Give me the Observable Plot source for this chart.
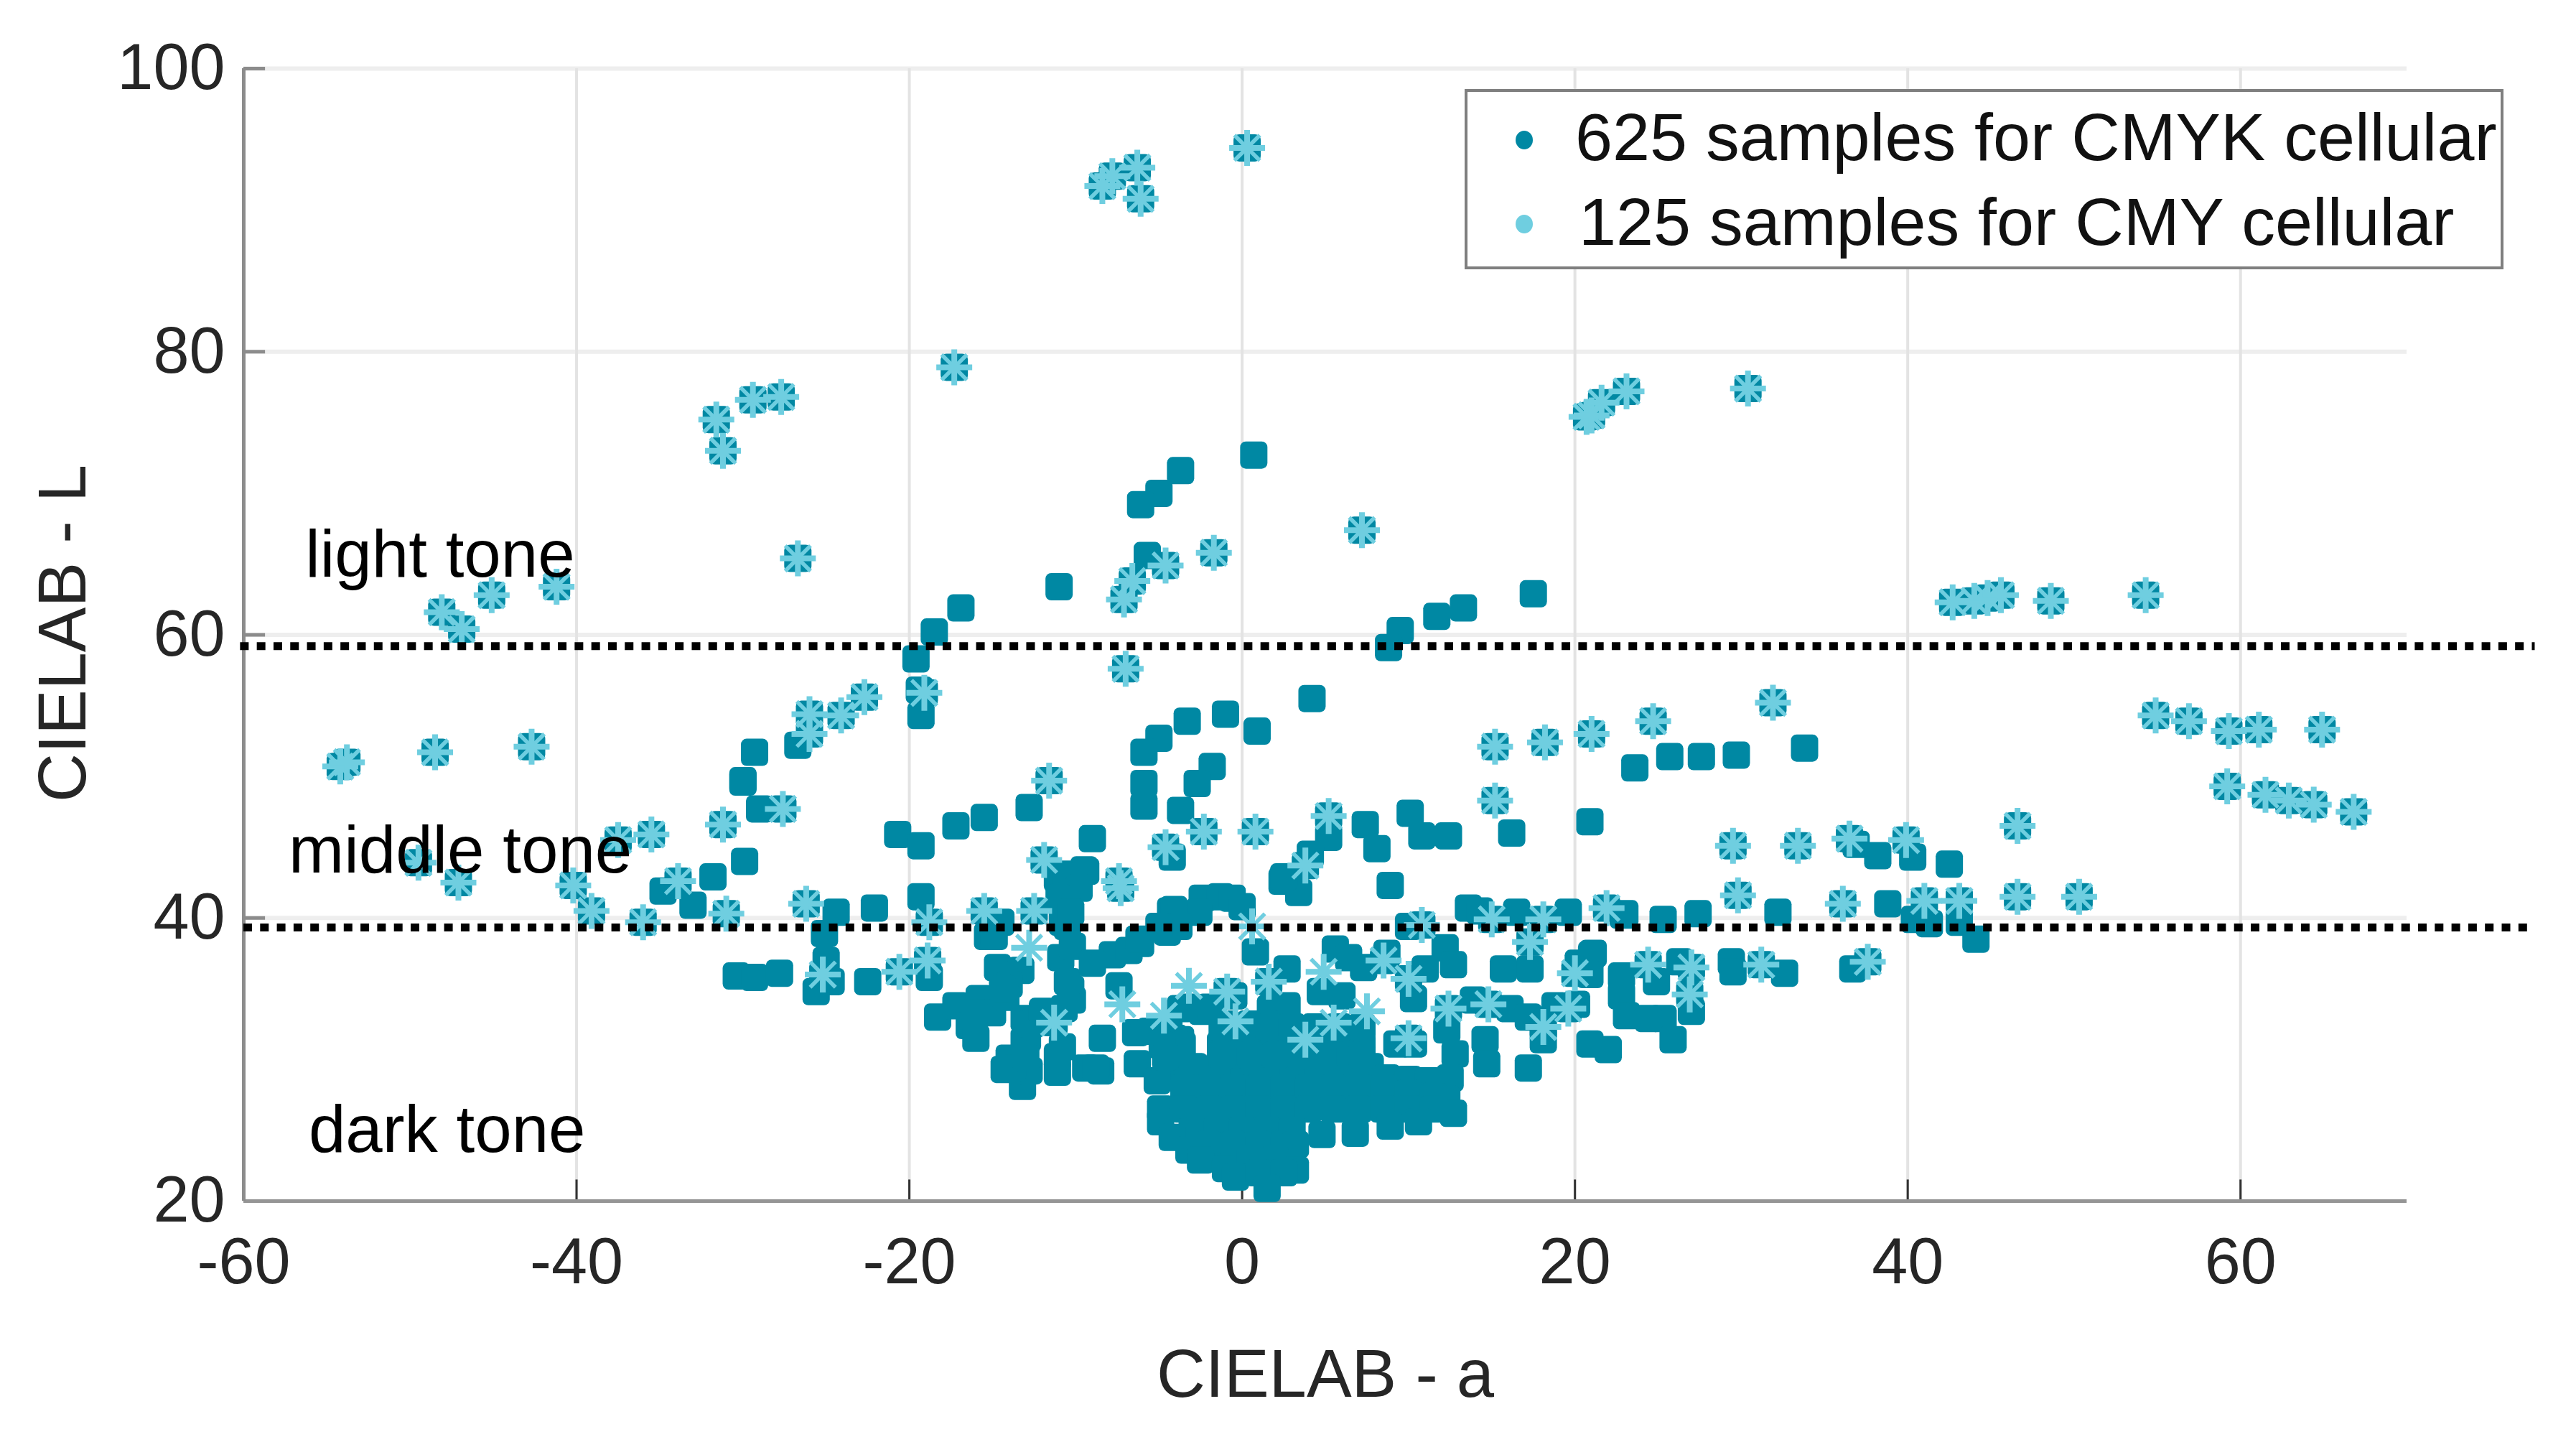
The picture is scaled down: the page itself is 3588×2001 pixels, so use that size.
<!DOCTYPE html>
<html><head><meta charset="utf-8">
<script src="https://cdn.jsdelivr.net/npm/d3@7"></script>
<script src="https://cdn.jsdelivr.net/npm/@observablehq/plot@0.6"></script>
<style>
html,body{margin:0;padding:0;background:#fff;overflow:hidden}
#wrap{position:relative;width:3588px;height:2001px;font-family:"Liberation Sans",Arial,sans-serif}
#wrap svg{display:block;max-width:none;background:#fff}
#legend{position:absolute;left:2040px;top:124px;width:1439px;height:243px;border:4px solid #7f7f7f;background:#fff}
#legend .t{position:absolute;font-size:93.5px;line-height:1;color:#111;white-space:nowrap}
#legend .m{position:absolute;width:24px;height:26px;border-radius:50%}
</style></head><body><div id="wrap"></div>
<script>
const xTicks=[-60,-40,-20,0,20,40,60];
const yTicks=[20,40,60,80,100];
const toneBounds=[39.33,59.2];
const xTitle="CIELAB - a";
const yTitle="CIELAB - L";
const toneLabels=[["light tone",-56.3,64.1],["middle tone",-57.3,43.2],["dark tone",-56.1,23.5]];
const legendLabels=["625 samples for CMYK cellular","125 samples for CMY cellular"];
const darkColor="#0088a3", lightColor="#6fcee0";

// CMY samples that sit on a visible CMYK square
const cmyOnSquare=[[0.3,94.4],[-8.4,91.7],[-7.8,92.4],[-6.3,93],[-6.1,90.8],[-17.3,78.9],[-31.6,75.2],[-31.2,73],[-29.4,76.6],[-27.7,76.8],
[-26.7,65.4],[-45.1,62.8],[-41.2,63.4],[-48.1,61.6],[-46.9,60.4],[30.4,77.4],[20.7,75.4],[21,75.5],[21.6,76.4],[23.1,77.2],
[7.2,67.4],[-1.7,65.8],[-4.6,64.9],[-6.6,63.8],[-7.1,62.5],[42.7,62.3],[44,62.4],[44.8,62.6],[45.6,62.8],[48.6,62.4],[54.3,62.8],
[-7,57.6],[-19.1,55.9],[-22.7,55.6],[-24.1,54.3],[-26,54.4],[-26,53],[-54.2,50.7],[-53.8,51],[-48.5,51.7],[-42.7,52.1],
[-27.6,47.7],[-31.2,46.6],[-11.6,49.7],[-37.5,45.5],[-35.5,45.9],[-49.5,43.9],[-47.1,42.5],[-40.2,42.3],[-39.1,40.5],[-36,39.7],[-33.9,42.6],
[-31,40.3],[-26.2,41],[-25.2,36],[-20.6,36.2],[-18.9,37],[-18.8,39.7],[-15.5,40.5],[-12.5,40.5],[-11.9,44.1],[-11.3,32.6],
[-7.4,42.6],[-7.3,42.1],[3.8,43.7],[10.8,39.5],[8.5,37],[10,35.7],[1.6,35.5],[-0.9,34.8],[10,31.5],
[15.2,48.3],[29.5,45.1],[29.8,41.6],[15,39.9],[18.1,39.9],[17.3,38.3],[21.9,40.7],[24.4,36.7],[27,36.5],[26.9,34.6],[31.2,36.7],
[20,36.1],[19.6,33.6],[18.1,32.3],[14.8,33.9],[12.4,33.6],[33.4,45.1],[15.2,52.1],[18.2,52.4],[21,53],[24.7,53.9],[31.9,55.2],[5.2,47.2],
[-4.6,45],[-2.3,46.1],[0.8,46.1],[36.5,45.6],[39.9,45.5],[46.6,46.5],[54.9,54.3],[56.9,53.9],[59.3,53.2],[61.1,53.3],[64.9,53.3],
[59.2,49.3],[61.5,48.7],[62.9,48.3],[64.4,48],[66.8,47.5],[36.1,41],[41,41.2],[43.1,41.2],[46.6,41.5],[50.3,41.5],[37.6,36.9]];
// CMY samples with no square of their own under them
const cmyBare=[[-12.8,37.9],[-7.2,33.9],[-4.7,33.1],[-3.2,35.2],[-0.4,32.7],[0.6,39.4],[4.9,36.2],[7.5,33.4],[5.5,32.6],[3.8,31.4]];
// CMYK samples outside the dense centre
const cmykOuter=[[0.7,72.7],[-3.7,71.6],[-5,70],[-6.1,69.2],[-5.7,65.6],[-11,63.4],[-16.9,61.9],[-18.5,60.2],[-19.6,58.3],[-19.4,56.1],[-19.3,54.3],
[-26.7,52.2],[-29.3,51.7],[-30,49.7],[-1,54.4],[0.9,53.2],[-3.3,53.9],[-5,52.7],[-5.9,51.7],[-1.8,50.7],[-2.7,49.5],[-5.9,49.5],[-5.9,47.9],[-3.7,47.6],
[17.5,62.9],[13.3,61.9],[11.7,61.3],[9.5,60.3],[8.8,59.1],[4.2,55.5],[23.6,50.6],[25.7,51.4],[27.6,51.4],[29.7,51.5],[20.9,46.8],[16.2,46],
[12.4,45.8],[10.8,45.8],[10.1,47.4],[7.4,46.6],[8.1,44.9],[5.2,45.7],[4.1,44.5],[33.8,52],[36.9,45.2],[38.2,44.4],[40.3,44.3],[42.5,43.8],
[23,40.3],[25.3,39.9],[27.4,40.3],[32.2,40.4],[38.8,41],[40.4,39.9],[41.3,39.6],[43.1,39.7],[44.1,38.5],[21,37.4],[36.7,36.4],[32.6,36.1],[29.4,36.9],[29.5,36.2],
[24.9,35.5],[26.3,36.9],[27,33.4],[25.3,32.9],[13.6,40.7],[14.3,40.5],[16.5,40.4],[19.6,40.4],[22.9,40.2],[12.2,37.9],[12.7,36.7],[15.7,36.4],[17.3,36.4],
[21.1,37.5],[20.2,36.8],[20.9,36],[22.8,35.9],[22.8,34.5],[23.1,33.1],[24.4,32.9],[25.9,31.4],[16.1,33.6],[17.2,33],[18.8,33.8],[20.1,33.9],[18.1,31.4],
[14.6,31.4],[14.7,29.7],[17.2,29.4],[20.9,31.1],[22,30.7],[12.3,32.1],[12.8,30.4],[13.9,34.2],
[-30,49.6],[-29,47.7],[-29.9,44],[-31.8,42.9],[-33,40.9],[-34.8,41.9],[-24.4,40.4],[-22.1,40.7],[-25.1,38.9],[-25,37],[-24.7,35.5],[-25.6,34.8],
[-30.4,35.9],[-29.3,35.8],[-27.8,36.1],[-22.5,35.5],[-18.8,35.8],[-20.7,45.9],[-19.3,45.1],[-17.2,46.5],[-15.5,47.1],[-12.8,47.8],[-19.3,41.5],
[-11.1,42.8],[-10.6,43.1],[-9.5,43.4],[-9,45.6],[-9.4,43.3],[-9.8,42.1],[-4.2,44.3],[2.4,42.6],[3.4,41.8],[8.9,42.3],[2.5,42.9]];
// CMYK samples in the dense centre
const cmykCentre=[[-14.5,39.7],[-15.3,38.7],[-14.7,36.5],[-13.3,36.3],[-14,35.3],[-10.9,37.2],[-10.8,39.7],[-11,41.4],[-10.3,35],[-18.3,33],[-17.2,33.8],[-15.8,34.3],
[-15,33.3],[-16.4,32.4],[-16,31.5],[-13.1,32.9],[-13.1,31.3],[-14,30.1],[-14.3,29.3],[-13.2,28.1],[-12.8,29.2],[-11.1,29.1],[-10.8,30.9],[-10.7,33.6],[-9.4,29.4],
[-4.3,40.5],[-2.4,41.4],[-1.3,41.5],[-0.6,41.4],[0,40.8],[-2.6,40.4],[0.8,37.6],[2.7,36.4],[5.6,37.8],[6.4,37.2],[7.3,36.5],[8.7,37.5],[10,39.4],[11,36.4],[10.3,34.3],
[4.7,34.8],[6,34.5],[2.7,33.8],[1.7,33.6],[2.8,31.8],[-0.5,34.5],[-2.4,33.4],[-3.7,33.6],[-8.4,31.5],[-8.5,29.2],[-6.4,31.9],[-6.3,29.7],[-4.4,32.1],[-3.7,31.4],
[9.3,31.1],[10.3,31.1],[-7.4,35.2],[-10.2,34.2],[-10.5,35.5],[-14.2,34.4],[-16.1,33.3],[-13.8,29.4],[-8.8,29.4],[-12.9,31.5],[-4.1,31.5],
[-10.2,38],[-10.5,39.4],[-14.9,38.7],[-4.1,40.6],[-6.1,38.2],[-7.8,37.4],[-9,36.8],[-4.5,39],[-3.8,39.4],[-6.8,37.7],[-6.2,38.5],[-5,39.4],
[-4.4,29.5],[-2.9,29.5],[-1.4,29.5],[0.1,29.5],[1.6,29.5],[3.1,29.5],[4.6,29.5],[6.1,29.5],[7.7,29.5],[8.7,28.7],[10,28.6],[11.2,28.5],[12.5,28.7],[12.3,27.2],[12.7,26.2],
[-5.1,28.5],[-3.5,28],[-2,28],[-0.5,28],[1,28],[2.5,28],[4,28],[5.5,28],[7,28],[8.5,28],[10,27.6],[11.5,27.4],
[-4.9,26.5],[-3.5,26.5],[-2,26.5],[-0.5,26.5],[1,26.5],[2.5,26.5],[4,26.5],[5.5,26.5],[7,26.5],[8.5,26.5],[10,26.5],[11.5,26.5],
[-4.9,25.6],[-3,25],[-1.5,25],[0,25],[1.5,25],[3,25],[4.8,24.7],[6.8,24.8],[8.9,25.3],[10.6,25.6],
[-4.2,24.5],[-3.2,23.6],[-2,24],[-0.5,24],[1,24],[2.5,24],[3.2,24],[-2.5,22.9],[-1,22.3],[0.5,23],[2,23],[3.2,22.2],[-0.4,21.7],[1,22],[2.5,22],[1.5,20.9],
[-3.6,31],[-1.3,31],[0,31],[1.5,31],[3,31],[4.5,31],[6,31],[7.2,31],[-1,32.5],[0.5,32.5],[1.5,32.5],[6.5,32],
[-1.2,32.3],[0.2,32.3],[1.6,32.3],[3,32.3],[4.4,32.3],[5.8,32.3],[7.2,32.3],[-1.2,30.3],[0.5,30.3],[2,30.3],[3.5,30.3],[5,30.3],[6.5,30.3],[7.2,30.3],
[-4.8,31],[-4.6,30.2],[-5.5,32],[-3.2,33.7],[-1.9,33.7],[-12.7,32.5],[-12,33.4],[-13,30.1],[-11.1,30.2],[-10.3,40.4],[-14.4,35]];

const pts=a=>a.map(([a,L])=>({a,L}));
const light=pts([...cmyOnSquare,...cmyBare]);
const dark=pts([...cmykOuter,...cmykCentre,...cmyOnSquare]);

const square={draw(c,size){const r=Math.sqrt(size/Math.PI),k=8;
  c.moveTo(-r+k,-r);c.lineTo(r-k,-r);c.arcTo(r,-r,r,-r+k,k);c.lineTo(r,r-k);c.arcTo(r,r,r-k,r,k);
  c.lineTo(-r+k,r);c.arcTo(-r,r,-r,r-k,k);c.lineTo(-r,-r+k);c.arcTo(-r,-r,-r+k,-r,k);c.closePath();}};
const plus={draw(c,size){const r=Math.sqrt(size/Math.PI);
  c.moveTo(-r,0);c.lineTo(r,0);c.moveTo(0,-r);c.lineTo(0,r);}};
const cross={draw(c,size){const r=Math.sqrt(size/Math.PI)*Math.SQRT1_2;
  c.moveTo(-r,-r);c.lineTo(r,r);c.moveTo(-r,r);c.lineTo(r,-r);}};

const font={fontFamily:"Liberation Sans, Arial, sans-serif"};
const chart=Plot.plot({
  width:3588,height:2001,marginLeft:339,marginRight:236,marginTop:95,marginBottom:329,
  style:{background:"#fff",...font},
  x:{domain:[-60,70],label:null},
  y:{domain:[20,100],label:null},
  marks:[
    Plot.ruleY(yTicks.slice(1),{x1:-60,x2:70,stroke:"#eeeeee",strokeWidth:6}),
    Plot.ruleX(xTicks.slice(1),{y1:20,y2:100,stroke:"#e3e3e3",strokeWidth:4}),
    Plot.ruleX(xTicks.slice(1),{y1:20,y2:21.5,stroke:"#333",strokeWidth:3}),
    Plot.ruleY(yTicks.slice(1),{x1:-60,x2:-58.7,stroke:"#8c8c8c",strokeWidth:5}),
    Plot.ruleY([20],{x1:-60,x2:70,stroke:"#959595",strokeWidth:5}),
    Plot.ruleX([-60],{y1:20,y2:100,stroke:"#8c8c8c",strokeWidth:5}),
    Plot.dot(dark,{x:"a",y:"L",r:19,symbol:square,fill:darkColor,stroke:"none"}),
    Plot.dot(light,{x:"a",y:"L",r:25,symbol:cross,fill:"none",stroke:lightColor,strokeWidth:5.5}),
    Plot.dot(light,{x:"a",y:"L",r:25,symbol:plus,fill:"none",stroke:lightColor,strokeWidth:8}),
    Plot.ruleY([toneBounds[1]],{x1:-60.2,x2:77.7,stroke:"#000",strokeWidth:11,strokeDasharray:"12 11.3"}),
    Plot.ruleY([toneBounds[0]],{x1:-60,x2:77.7,stroke:"#000",strokeWidth:11,strokeDasharray:"12 11.3"}),
    Plot.axisX({ticks:xTicks,tickSize:0,tickPadding:86,fontSize:90,label:null,tickFormat:d=>String(d),fill:"#262626",lineAnchor:"middle",...font}),
    Plot.axisY({ticks:yTicks,tickSize:0,tickPadding:26,fontSize:90,label:null,tickFormat:d=>String(d),fill:"#262626",...font}),
    Plot.text([xTitle],{x:5.0,y:6.2,text:d=>d,fontSize:94,fill:"#262626",lineAnchor:"bottom",...font}),
    Plot.text([yTitle],{x:-69.5,y:60.1,text:d=>d,fontSize:94,fill:"#262626",rotate:-90,lineAnchor:"bottom",...font}),
    Plot.text(toneLabels,{x:d=>d[1],y:d=>d[2],text:d=>d[0],fontSize:92.5,fill:"#000",textAnchor:"start",lineAnchor:"bottom",...font})
  ]
});
const wrap=document.getElementById("wrap");
wrap.appendChild(chart);
const leg=document.createElement("div");leg.id="legend";
[[darkColor,legendLabels[0],150],[lightColor,legendLabels[1],155]].forEach(([c,t,x],i)=>{
  const m=document.createElement("div");m.className="m";m.style.cssText=`left:${67}px;top:${54+i*117}px;background:${c}`;
  const s=document.createElement("div");s.className="t";s.textContent=t;s.style.cssText=`left:${x}px;top:${16+i*118}px`;
  leg.append(m,s);
});
wrap.appendChild(leg);
</script></body></html>
